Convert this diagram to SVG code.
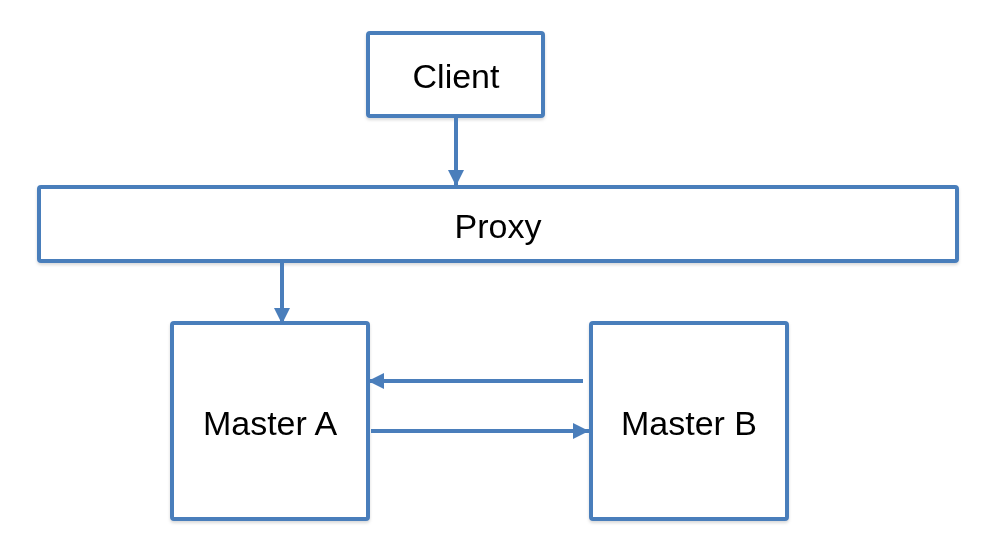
<svg xmlns="http://www.w3.org/2000/svg" width="985" height="546" viewBox="0 0 985 546">
  <style>
    .box { fill: #ffffff; stroke: #4a7ebb; stroke-width: 4; }
    .lbl { font-family: "Liberation Sans", Arial, sans-serif; font-size: 34px; fill: #000000; text-anchor: middle; dominant-baseline: central; }
    .conn { stroke: #4a7ebb; stroke-width: 4; fill: none; marker-end: url(#arrow); }
  </style>
  <defs>
    <marker id="arrow" viewBox="0 0 10 10" refX="10" refY="5" markerWidth="4" markerHeight="4" orient="auto" markerUnits="strokeWidth">
      <path d="M0,0 L10,5 L0,10 Z" fill="#4a7ebb"/>
    </marker>
    <filter id="sh" x="-5%" y="-5%" width="110%" height="115%">
      <feDropShadow dx="0" dy="2" stdDeviation="1.5" flood-color="#000" flood-opacity="0.15"/>
    </filter>
  </defs>
  <rect width="985" height="546" fill="#ffffff"/>
  <g id="client" filter="url(#sh)">
    <rect class="box" x="368" y="33" width="175" height="83" rx="2"/>
    <text class="lbl" x="456" y="76">Client</text>
  </g>
  <g id="proxy" filter="url(#sh)">
    <rect class="box" x="39" y="187" width="918" height="74" rx="2"/>
    <text class="lbl" x="498" y="226">Proxy</text>
  </g>
  <g id="masterA" filter="url(#sh)">
    <rect class="box" x="172" y="323" width="196" height="196" rx="2"/>
    <text class="lbl" x="270" y="423">Master A</text>
  </g>
  <g id="masterB" filter="url(#sh)">
    <rect class="box" x="591" y="323" width="196" height="196" rx="2"/>
    <text class="lbl" x="689" y="423">Master B</text>
  </g>
  <g id="connectors">
    <line class="conn" x1="456" y1="118" x2="456" y2="186"/>
    <line class="conn" x1="282" y1="263" x2="282" y2="324"/>
    <line class="conn" x1="583" y1="381" x2="368" y2="381"/>
    <line class="conn" x1="371" y1="431" x2="589" y2="431"/>
  </g>
</svg>
